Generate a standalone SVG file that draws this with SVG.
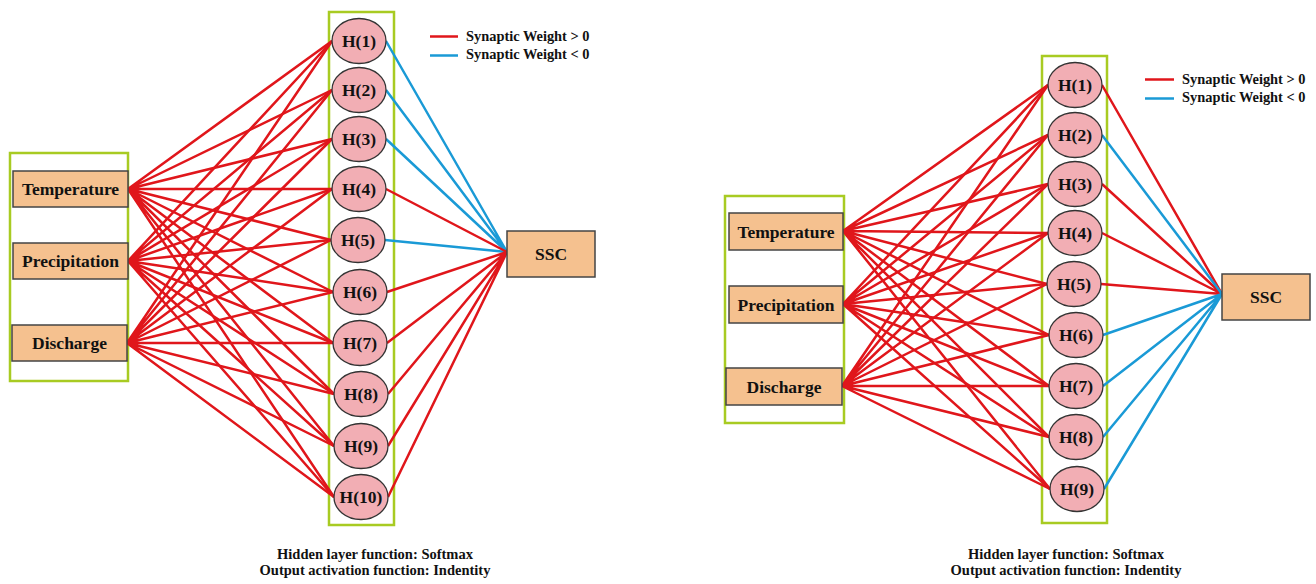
<svg xmlns="http://www.w3.org/2000/svg" width="1316" height="584" viewBox="0 0 1316 584">
<style>
.frame{fill:none;stroke:#a8cb22;stroke-width:2.5}
.box{fill:#f5c18f;stroke:#444;stroke-width:1.5}
.hid{fill:#f2aeb4;stroke:#333;stroke-width:1.3}
.lbl{font-family:"Liberation Serif","Times New Roman",serif;font-weight:bold;font-size:17.5px;fill:#111;text-anchor:middle}
.leg{font-family:"Liberation Serif","Times New Roman",serif;font-weight:bold;font-size:14.4px;fill:#111}
.cap{font-family:"Liberation Serif","Times New Roman",serif;font-weight:bold;font-size:14.5px;fill:#111;text-anchor:middle}
.pos{fill:none;stroke:#e0161b;stroke-width:2.5}
.neg{fill:none;stroke:#1a9ad6;stroke-width:2.5}
</style>
<rect width="1316" height="584" fill="#fff"/>

<!-- frames -->
<rect class="frame" x="10" y="153" width="118" height="228"/>
<rect class="frame" x="329" y="12" width="65" height="513"/>
<rect class="frame" x="725" y="196" width="119" height="227"/>
<rect class="frame" x="1042" y="56" width="65" height="467"/>

<g id="connectors">
<!-- left: inputs to hidden -->
<path class="pos" d="M128,189 L332,41 M128,189 L332,90 M128,189 L332,139 M128,189 L332,189 M128,189 L331,240 M128,189 L333,292 M128,189 L333,343 M128,189 L334,394 M128,189 L334,446 M128,189 L334,497"/>
<path class="pos" d="M128,261 L332,41 M128,261 L332,90 M128,261 L332,139 M128,261 L332,189 M128,261 L331,240 M128,261 L333,292 M128,261 L333,343 M128,261 L334,394 M128,261 L334,446 M128,261 L334,497"/>
<path class="pos" d="M127,343 L332,41 M127,343 L332,90 M127,343 L332,139 M127,343 L332,189 M127,343 L331,240 M127,343 L333,292 M127,343 L333,343 M127,343 L334,394 M127,343 L334,446 M127,343 L334,497"/>
<!-- left: hidden to SSC -->
<path class="neg" d="M386,41 L507,252 M386,90 L507,252 M386,139 L507,252 M385,240 L507,252"/>
<path class="pos" d="M386,189 L507,252 M387,292 L507,252 M387,343 L507,252 M388,394 L507,252 M388,446 L507,252 M388,497 L507,252"/>
<!-- right: inputs to hidden -->
<path class="pos" d="M843,231 L1048,85 M843,231 L1048,135 M843,231 L1048,184 M843,231 L1048,233 M843,231 L1047,284 M843,231 L1049,335 M843,231 L1049,386 M843,231 L1049,437 M843,231 L1050,489"/>
<path class="pos" d="M843,304 L1048,85 M843,304 L1048,135 M843,304 L1048,184 M843,304 L1048,233 M843,304 L1047,284 M843,304 L1049,335 M843,304 L1049,386 M843,304 L1049,437 M843,304 L1050,489"/>
<path class="pos" d="M842,386 L1048,85 M842,386 L1048,135 M842,386 L1048,184 M842,386 L1048,233 M842,386 L1047,284 M842,386 L1049,335 M842,386 L1049,386 M842,386 L1049,437 M842,386 L1050,489"/>
<!-- right: hidden to SSC -->
<path class="pos" d="M1102,85 L1222,294 M1102,184 L1222,294 M1102,233 L1222,294 M1101,284 L1222,294"/>
<path class="neg" d="M1102,135 L1222,294 M1103,335 L1222,294 M1103,386 L1222,294 M1103,437 L1222,294 M1104,489 L1222,294"/>
</g>

<!-- left network nodes -->
<g id="L-temperature"><rect class="box" x="13" y="171" width="115" height="36"/><text class="lbl" x="70.5" y="195">Temperature</text></g>
<g id="L-precipitation"><rect class="box" x="13" y="243" width="115" height="36"/><text class="lbl" x="70.5" y="267">Precipitation</text></g>
<g id="L-discharge"><rect class="box" x="12" y="325" width="115" height="36"/><text class="lbl" x="69.5" y="349">Discharge</text></g>
<g id="L-H1"><ellipse class="hid" cx="359" cy="41" rx="27" ry="22.5"/><text class="lbl" x="359" y="47">H(1)</text></g>
<g id="L-H2"><ellipse class="hid" cx="359" cy="90" rx="27" ry="22.5"/><text class="lbl" x="359" y="96">H(2)</text></g>
<g id="L-H3"><ellipse class="hid" cx="359" cy="139" rx="27" ry="22.5"/><text class="lbl" x="359" y="145">H(3)</text></g>
<g id="L-H4"><ellipse class="hid" cx="359" cy="189" rx="27" ry="22.5"/><text class="lbl" x="359" y="195">H(4)</text></g>
<g id="L-H5"><ellipse class="hid" cx="358" cy="240" rx="27" ry="22.5"/><text class="lbl" x="358" y="246">H(5)</text></g>
<g id="L-H6"><ellipse class="hid" cx="360" cy="292" rx="27" ry="22.5"/><text class="lbl" x="360" y="298">H(6)</text></g>
<g id="L-H7"><ellipse class="hid" cx="360" cy="343" rx="27" ry="22.5"/><text class="lbl" x="360" y="349">H(7)</text></g>
<g id="L-H8"><ellipse class="hid" cx="361" cy="394" rx="27" ry="22.5"/><text class="lbl" x="361" y="400">H(8)</text></g>
<g id="L-H9"><ellipse class="hid" cx="361" cy="446" rx="27" ry="22.5"/><text class="lbl" x="361" y="452">H(9)</text></g>
<g id="L-H10"><ellipse class="hid" cx="361" cy="497" rx="27" ry="22.5"/><text class="lbl" x="361" y="503">H(10)</text></g>
<g id="L-SSC"><rect class="box" x="507" y="231" width="88" height="46"/><text class="lbl" x="551" y="260">SSC</text></g>
<g id="L-legend">
<line class="pos" x1="430" y1="36.5" x2="458" y2="36.5"/>
<line class="neg" x1="430" y1="55.5" x2="458" y2="55.5"/>
<text class="leg" x="466" y="41">Synaptic Weight &gt; 0</text>
<text class="leg" x="466" y="59">Synaptic Weight &lt; 0</text>
</g>
<g id="L-caption">
<text class="cap" x="375" y="559">Hidden layer function: Softmax</text>
<text class="cap" x="375" y="575">Output activation function: Indentity</text>
</g>

<!-- right network nodes -->
<g id="R-temperature"><rect class="box" x="729" y="213" width="114" height="37"/><text class="lbl" x="786" y="237.5">Temperature</text></g>
<g id="R-precipitation"><rect class="box" x="729" y="286" width="114" height="37"/><text class="lbl" x="786" y="310.5">Precipitation</text></g>
<g id="R-discharge"><rect class="box" x="726" y="368" width="116" height="37"/><text class="lbl" x="784" y="392.5">Discharge</text></g>
<g id="R-H1"><ellipse class="hid" cx="1075" cy="85" rx="27" ry="22.5"/><text class="lbl" x="1075" y="91">H(1)</text></g>
<g id="R-H2"><ellipse class="hid" cx="1075" cy="135" rx="27" ry="22.5"/><text class="lbl" x="1075" y="141">H(2)</text></g>
<g id="R-H3"><ellipse class="hid" cx="1075" cy="184" rx="27" ry="22.5"/><text class="lbl" x="1075" y="190">H(3)</text></g>
<g id="R-H4"><ellipse class="hid" cx="1075" cy="233" rx="27" ry="22.5"/><text class="lbl" x="1075" y="239">H(4)</text></g>
<g id="R-H5"><ellipse class="hid" cx="1074" cy="284" rx="27" ry="22.5"/><text class="lbl" x="1074" y="290">H(5)</text></g>
<g id="R-H6"><ellipse class="hid" cx="1076" cy="335" rx="27" ry="22.5"/><text class="lbl" x="1076" y="341">H(6)</text></g>
<g id="R-H7"><ellipse class="hid" cx="1076" cy="386" rx="27" ry="22.5"/><text class="lbl" x="1076" y="392">H(7)</text></g>
<g id="R-H8"><ellipse class="hid" cx="1076" cy="437" rx="27" ry="22.5"/><text class="lbl" x="1076" y="443">H(8)</text></g>
<g id="R-H9"><ellipse class="hid" cx="1077" cy="489" rx="27" ry="22.5"/><text class="lbl" x="1077" y="495">H(9)</text></g>
<g id="R-SSC"><rect class="box" x="1222" y="274" width="88" height="46"/><text class="lbl" x="1266" y="303">SSC</text></g>
<g id="R-legend">
<line class="pos" x1="1145" y1="79.5" x2="1174" y2="79.5"/>
<line class="neg" x1="1145" y1="98.5" x2="1174" y2="98.5"/>
<text class="leg" x="1182" y="83.5">Synaptic Weight &gt; 0</text>
<text class="leg" x="1182" y="102">Synaptic Weight &lt; 0</text>
</g>
<g id="R-caption">
<text class="cap" x="1066" y="559">Hidden layer function: Softmax</text>
<text class="cap" x="1066" y="575">Output activation function: Indentity</text>
</g>
</svg>
